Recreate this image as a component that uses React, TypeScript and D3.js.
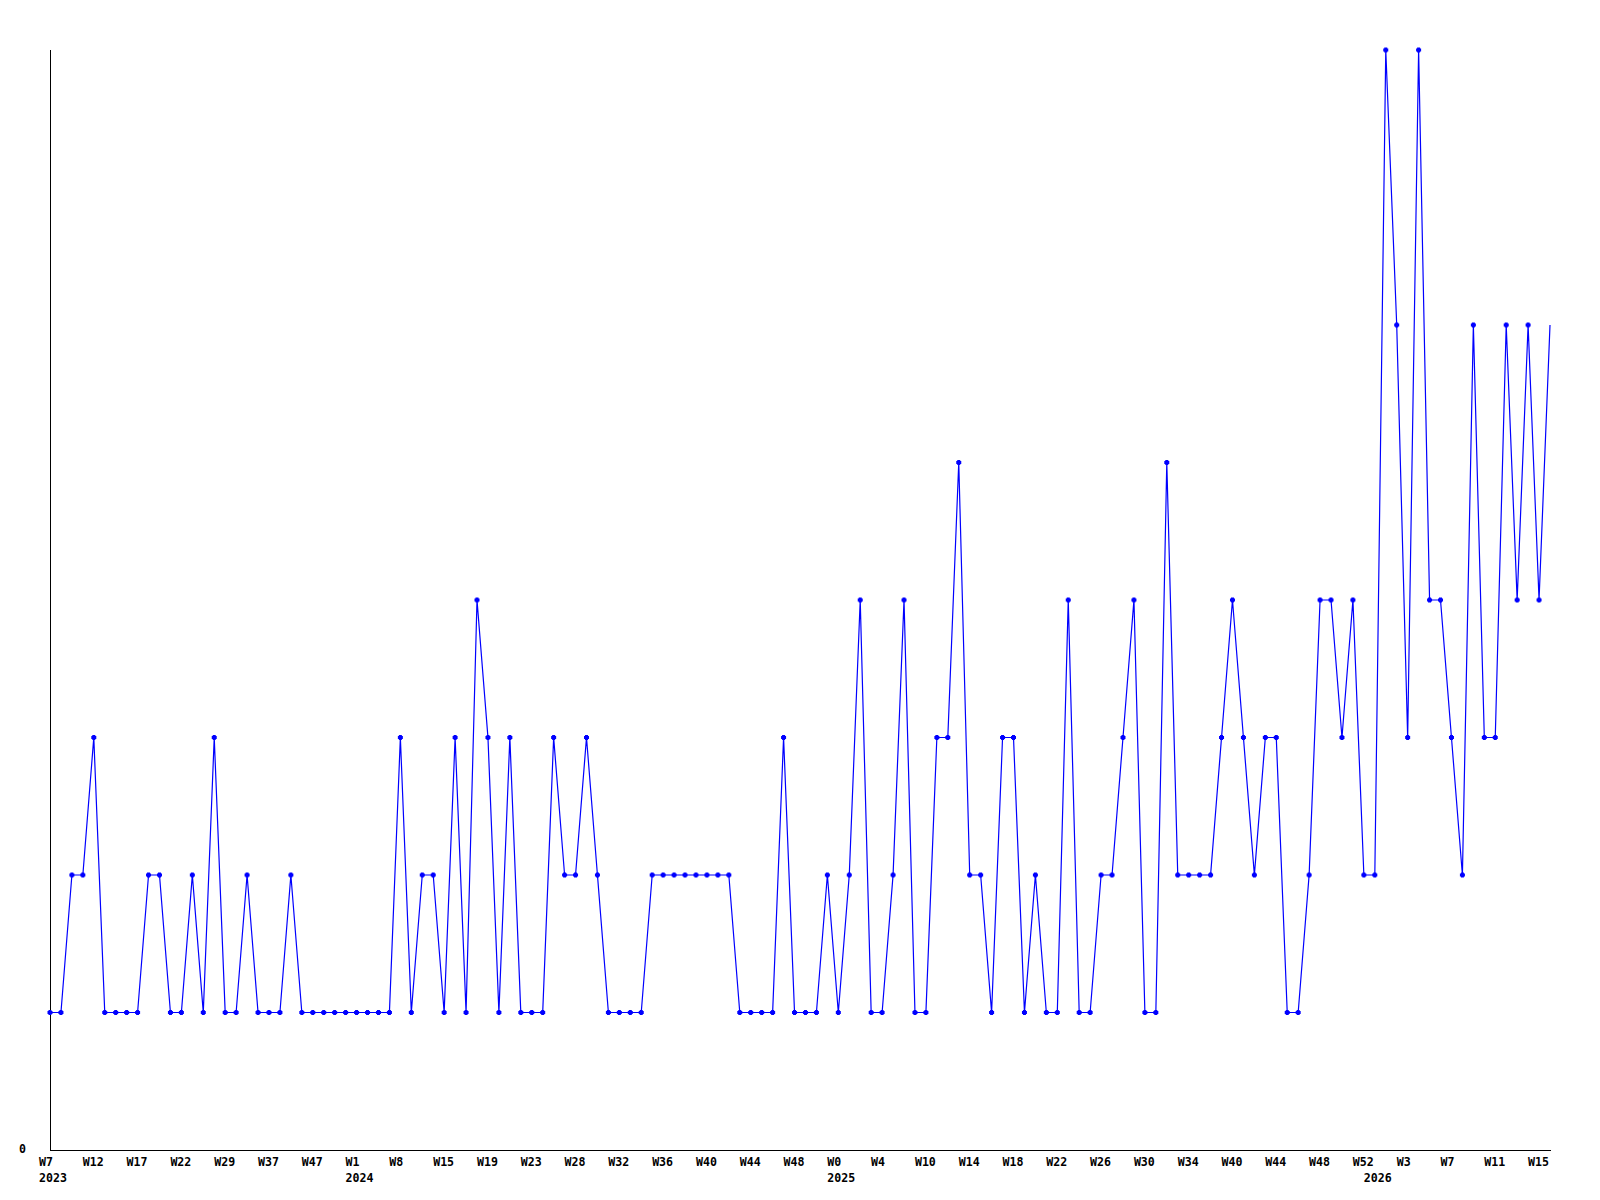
import { useEffect, useRef } from 'react';
import * as d3 from 'd3';

// weekly counts, one entry per data point
const counts = [
  1, 1, 2, 2, 3, 1, 1, 1, 1, 2, 2, 1, 1, 2, 1, 3, 1, 1, 2, 1, 1, 1, 2, 1,
  1, 1, 1, 1, 1, 1, 1, 1, 3, 1, 2, 2, 1, 3, 1, 4, 3, 1, 3, 1, 1, 1,
  3, 2, 2, 3, 2, 1, 1, 1, 1, 2, 2, 2, 2, 2, 2, 2, 2, 1, 1, 1, 1, 3, 1,
  1, 1, 2, 1, 2, 4, 1, 1, 2, 4, 1, 1, 3, 3, 5, 2, 2, 1, 3, 3, 1, 2, 1,
  1, 4, 1, 1, 2, 2, 3, 4, 1, 1, 5, 2, 2, 2, 2, 3, 4, 3, 2, 3, 3, 1, 1,
  2, 4, 4, 3, 4, 2, 2, 8, 6, 3, 8, 4, 4, 3, 2, 6, 3, 3, 6, 4, 6, 4, 6,
];

// a week label every 4th point
const weekLabels = [
  'W7', 'W12', 'W17', 'W22', 'W29', 'W37', 'W47',
  'W1', 'W8', 'W15', 'W19', 'W23', 'W28', 'W32', 'W36', 'W40', 'W44', 'W48',
  'W0', 'W4', 'W10', 'W14', 'W18', 'W22', 'W26', 'W30', 'W34', 'W40', 'W44', 'W48', 'W52',
  'W3', 'W7', 'W11', 'W15',
];

const years = ['2023', '2024', '2025', '2026'];
const yearStartIndex = [0, 28, 72, 121];

export default function App() {
  const svgRef = useRef<SVGSVGElement>(null);

  useEffect(() => {
    if (!svgRef.current) return;
    const width = 1600;
    const height = 1200;
    const left = 50, right = 1550, top = 50, bottom = 1150;

    const svg = d3.select(svgRef.current);
    svg.selectAll('*').remove();
    svg.attr('width', width).attr('height', height);

    svg.append('rect').attr('width', width).attr('height', height).attr('fill', '#ffffff');

    const x = d3.scaleLinear().domain([0, counts.length - 1]).range([left, right]);
    const y = d3.scaleLinear().domain([0, 8]).range([bottom, top]);

    const font = '"DejaVu Sans Mono", monospace';

    // axes
    svg.append('line')
      .attr('x1', left + 0.5).attr('x2', left + 0.5)
      .attr('y1', top).attr('y2', bottom)
      .attr('stroke', '#000').attr('stroke-width', 1);
    svg.append('line')
      .attr('x1', left).attr('x2', right + 1)
      .attr('y1', bottom + 0.5).attr('y2', bottom + 0.5)
      .attr('stroke', '#000').attr('stroke-width', 1);

    svg.append('text')
      .attr('x', 19).attr('y', y(0) + 3)
      .text('0')
      .style('font-family', font)
      .style('font-weight', 'bold')
      .style('font-size', '11.6px')
      .style('fill', '#000');

    // week tick labels
    svg.append('g')
      .selectAll('text')
      .data(weekLabels)
      .enter()
      .append('text')
      .attr('x', (_, i) => x(i * 4) - 11)
      .attr('y', 1166)
      .text(d => d)
      .style('font-family', font)
      .style('font-weight', 'bold')
      .style('font-size', '11.6px')
      .style('fill', '#000');

    // year labels
    svg.append('g')
      .selectAll('text')
      .data(years)
      .enter()
      .append('text')
      .attr('x', (_, i) => x(yearStartIndex[i]) - 11)
      .attr('y', 1181.5)
      .text(d => d)
      .style('font-family', font)
      .style('font-weight', 'bold')
      .style('font-size', '11.6px')
      .style('fill', '#000');

    // series line
    const line = d3.line<number>()
      .x((_, i) => x(i))
      .y(d => y(d));

    svg.append('path')
      .datum(counts)
      .attr('d', line)
      .attr('fill', 'none')
      .attr('stroke', '#0000ff')
      .attr('stroke-width', 1.2);

    // small cross markers (last point has none)
    const marks = svg.append('g')
      .selectAll('g')
      .data(counts.slice(0, -1))
      .enter()
      .append('g')
      .attr('transform', (d, i) => `translate(${x(i)},${y(d)})`);

    marks.append('rect')
      .attr('x', -2.5).attr('y', -1.5).attr('width', 5).attr('height', 3)
      .attr('fill', '#0000ff');
    marks.append('rect')
      .attr('x', -1.5).attr('y', -2.5).attr('width', 3).attr('height', 5)
      .attr('fill', '#0000ff');
  }, []);

  return (
    <div style={{ position: 'absolute', left: 0, top: 0 }}>
      <svg ref={svgRef} style={{ display: 'block' }} />
    </div>
  );
}
